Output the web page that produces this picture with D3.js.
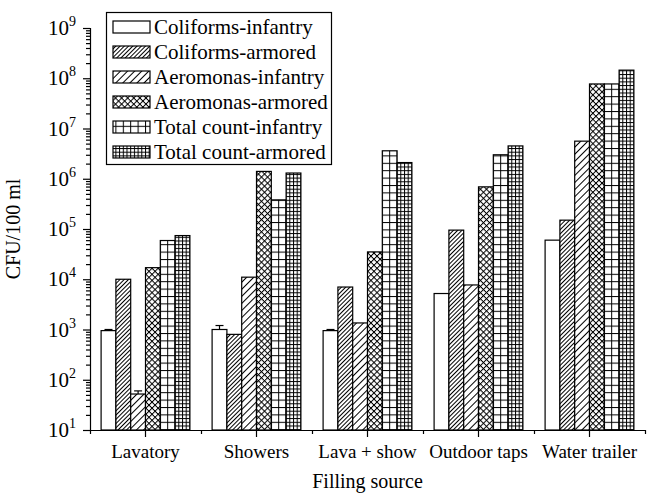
<!DOCTYPE html>
<html><head><meta charset="utf-8">
<script src="https://cdn.jsdelivr.net/npm/d3@7"></script>
<style>
body{margin:0;background:#fff}
svg text{font-family:"Liberation Serif","Times New Roman",serif;fill:#000}
</style>
</head><body>
<svg id="chart" width="650" height="493"></svg>
<script>
// ---- data ----
const categories = ["Lavatory", "Showers", "Lava + show", "Outdoor taps", "Water trailer"];
const seriesNames = ["Coliforms-infantry", "Coliforms-armored", "Aeromonas-infantry",
                     "Aeromonas-armored", "Total count-infantry", "Total count-armored"];
const coliformsInfantry  = [950, 1000, 950, 5200, 60000];
const coliformsArmored   = [10000, 800, 7000, 95000, 150000];
const aeromonasInfantry  = [52, 11000, 1350, 7700, 5600000];
const aeromonasArmored   = [17000, 1400000, 35000, 690000, 77000000];
const totalInfantry      = [59000, 380000, 3600000, 3000000, 77000000];
const totalArmored       = [74000, 1300000, 2100000, 4500000, 145000000];
// upper end of error bars (null = none visible)
const coliformsInfantryErr = [1000, 1200, 1000, null, null];
const aeromonasInfantryErr = [60, null, null, null, null];
const yTickExponents = [1, 2, 3, 4, 5, 6, 7, 8, 9];

const seriesValues = [coliformsInfantry, coliformsArmored, aeromonasInfantry,
                      aeromonasArmored, totalInfantry, totalArmored];
const seriesErrors = [coliformsInfantryErr, null, aeromonasInfantryErr, null, null, null];

// ---- layout ----
const svg = d3.select("#chart");
const X0 = 90, X1 = 645, Y0 = 430, Y1 = 28;
const x0 = d3.scaleBand().domain(categories).range([X0, X1]).padding(0);
const x1 = d3.scaleBand().domain(seriesNames)
  .range([x0.bandwidth() * 0.1, x0.bandwidth() * 0.9]).padding(0);
const y = d3.scaleLog().domain([10, 1e9]).range([Y0, Y1]);
const bw = x1.bandwidth();
const originX = x0(categories[0]) + x1(seriesNames[0]);

// ---- patterns ----
const defs = svg.append("defs");
function hatch(id, size, rot, lines, x) {
  const p = defs.append("pattern").attr("id", id)
    .attr("patternUnits", "userSpaceOnUse")
    .attr("width", size).attr("height", size)
    .attr("x", x || 0).attr("y", 0);
  if (rot) p.attr("patternTransform", `rotate(${rot})`);
  p.append("rect").attr("width", size).attr("height", size).attr("fill", "#fff");
  if (lines.includes("v")) p.append("line").attr("x1", 0.5).attr("x2", 0.5)
      .attr("y1", 0).attr("y2", size).attr("stroke", "#000").attr("stroke-width", 1);
  if (lines.includes("h")) p.append("line").attr("y1", 0.5).attr("y2", 0.5)
      .attr("x1", 0).attr("x2", size).attr("stroke", "#000").attr("stroke-width", 1);
}
hatch("pCA", 3, 45, "v");
hatch("pAI", 5, 45, "v");
hatch("pAA", 4.3, 45, "vh");
hatch("pTI", bw / 2, 0, "vh", originX - 0.5);
hatch("pTA", bw / 4, 0, "vh", originX - 0.5);
const fills = ["#fff", "url(#pCA)", "url(#pAI)", "url(#pAA)", "url(#pTI)", "url(#pTA)"];

// ---- bars ----
const gBars = svg.append("g");
seriesNames.forEach((s, si) => {
  gBars.selectAll(null).data(categories).enter().append("rect")
    .attr("x", c => x0(c) + x1(s))
    .attr("width", bw)
    .attr("y", (c, ci) => y(seriesValues[si][ci]))
    .attr("height", (c, ci) => Y0 - y(seriesValues[si][ci]))
    .attr("fill", fills[si])
    .attr("stroke", "#000").attr("stroke-width", 1.2);
  const err = seriesErrors[si];
  if (err) {
    categories.forEach((c, ci) => {
      if (err[ci] == null) return;
      const cx = x0(c) + x1(s) + bw / 2;
      gBars.append("line").attr("x1", cx).attr("x2", cx)
        .attr("y1", y(seriesValues[si][ci])).attr("y2", y(err[ci]))
        .attr("stroke", "#000").attr("stroke-width", 1.2);
      gBars.append("line").attr("x1", cx - 4).attr("x2", cx + 4)
        .attr("y1", y(err[ci])).attr("y2", y(err[ci]))
        .attr("stroke", "#000").attr("stroke-width", 1.2);
    });
  }
});

// ---- y axis ----
const majors = yTickExponents.map(e => Math.pow(10, e));
const minors = [];
yTickExponents.slice(0, -1).forEach(e => { for (let k = 2; k <= 9; k++) minors.push(k * Math.pow(10, e)); });

const gy = svg.append("g").attr("transform", `translate(${X0},0)`);
gy.call(d3.axisLeft(y).tickValues(majors).tickSize(7).tickFormat(() => ""));
gy.append("g").call(d3.axisLeft(y).tickValues(minors).tickSize(4).tickFormat(() => ""))
  .select(".domain").remove();
gy.selectAll("path,line").attr("stroke", "#000").attr("stroke-width", 1.2);
gy.selectAll(".tick text").remove();
yTickExponents.forEach(e => {
  const t = gy.append("text").attr("x", -14).attr("y", y(Math.pow(10, e)) + 7)
    .attr("text-anchor", "end").style("font-size", "21px");
  t.append("tspan").text("10");
  t.append("tspan").attr("dy", -9).style("font-size", "14px").text(e);
});

// ---- x axis ----
const gx = svg.append("g").attr("transform", `translate(0,${Y0})`);
gx.call(d3.axisBottom(x0).tickSize(7).tickPadding(8));
const bounds = categories.map(c => x0(c)).concat([x0.range()[1]]);
const xLin = d3.scaleLinear().domain([X0, X1]).range([X0, X1]);
gx.append("g").call(d3.axisBottom(xLin).tickValues(bounds).tickSize(4).tickFormat(() => ""))
  .select(".domain").remove();
gx.selectAll("path,line").attr("stroke", "#000").attr("stroke-width", 1.2);
gx.selectAll(".tick text").style("font-size", "19px").attr("font-family", null);
gx.select(".domain").attr("d", `M${X0 - 7},0.5H${X1}`);

// ---- axis titles ----
svg.append("text").attr("x", (X0 + X1) / 2).attr("y", 488)
  .attr("text-anchor", "middle").style("font-size", "20px").text("Filling source");
svg.append("text").attr("transform", `translate(20,${(Y0 + Y1) / 2}) rotate(-90)`)
  .attr("text-anchor", "middle").style("font-size", "20px").text("CFU/100 ml");

// ---- legend ----
const lg = svg.append("g");
lg.append("rect").attr("x", 106.5).attr("y", 12.5).attr("width", 225).attr("height", 152)
  .attr("fill", "#fff").attr("stroke", "#000").attr("stroke-width", 1.2);
seriesNames.forEach((s, i) => {
  const cy = 27 + i * 25;
  lg.append("rect").attr("x", 113).attr("y", cy - 6).attr("width", 37).attr("height", 12)
    .attr("fill", fills[i]).attr("stroke", "#000").attr("stroke-width", 1.2);
  lg.append("text").attr("x", 154).attr("y", cy + 7).style("font-size", "21px").text(s);
});
</script>
</body></html>
